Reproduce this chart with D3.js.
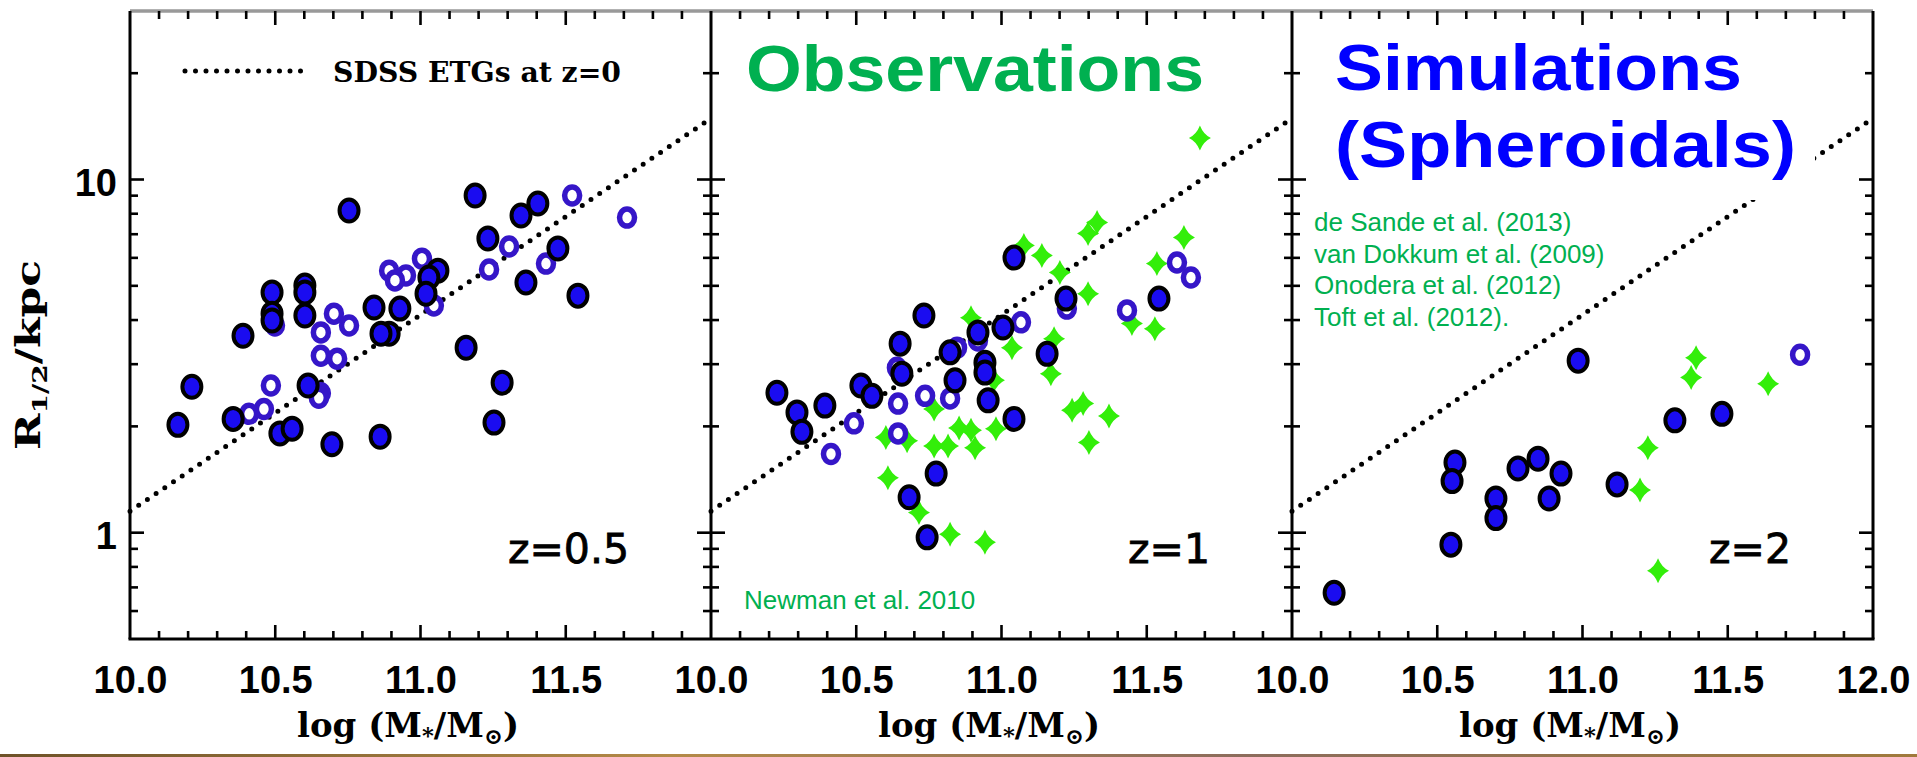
<!DOCTYPE html>
<html>
<head>
<meta charset="utf-8">
<script src="https://cdn.jsdelivr.net/npm/d3@7"></script>
<style>
  html, body { margin: 0; padding: 0; background: #ffffff; }
  svg { display: block; }
</style>
</head>
<body>
<svg id="chart" width="1917" height="757"></svg>
<script>
// ---- Axis ticks -------------------------------------------------------
const massLabelsFirst = [10.0, 10.5, 11.0, 11.5];          // panels 1 and 2
const massLabelsLast  = [10.0, 10.5, 11.0, 11.5, 12.0];    // panel 3
const massMinorTicks  = [10.1, 10.2, 10.3, 10.4, 10.6, 10.7, 10.8, 10.9, 11.1, 11.2,
                         11.3, 11.4, 11.6, 11.7, 11.8, 11.9];
const massMajorTicks  = [10.5, 11.0, 11.5];
const radiusLabels    = [1, 10];
const radiusMinorTicks = [0.6, 0.7, 0.8, 0.9, 2, 3, 4, 5, 6, 7, 8, 9, 20];

// ---- SDSS early-type size-mass relation at z=0 (end points) ----------
const sdssRelation = [[10.0, 1.15], [12.0, 14.9]];

// ---- Panel labels -----------------------------------------------------
const redshiftLabels = ["z=0.5", "z=1", "z=2"];

// ---- z = 0.5 : [log M*, R1/2 (kpc)] ----------------------------------
const z05Filled = [
  [10.754, 8.17], [11.188, 9.01], [11.346, 7.91], [11.404, 8.55], [11.232, 6.81],
  [11.473, 6.38], [11.363, 5.11], [11.542, 4.69], [11.060, 5.52], [11.029, 5.28],
  [11.019, 4.75], [10.489, 4.79], [10.489, 4.17], [10.489, 3.99], [10.602, 5.01],
  [10.602, 4.79], [10.602, 4.12], [10.389, 3.61], [10.840, 4.34], [10.929, 4.31],
  [10.892, 3.66], [10.864, 3.66], [11.157, 3.34], [11.281, 2.66], [10.213, 2.59],
  [10.165, 2.02], [10.355, 2.10], [10.516, 1.91], [10.558, 1.97], [10.613, 2.61],
  [10.695, 1.78], [10.861, 1.87], [11.253, 2.05]
];
const z05Open = [
  [11.522, 9.01], [11.711, 7.80], [11.305, 6.46], [11.236, 5.56], [11.432, 5.78],
  [11.005, 5.97], [10.892, 5.52], [10.950, 5.35], [10.912, 5.18], [11.046, 4.40],
  [10.702, 4.17], [10.754, 3.86], [10.657, 3.69], [10.499, 3.86], [10.657, 3.17],
  [10.713, 3.11], [10.485, 2.61], [10.461, 2.24], [10.410, 2.17], [10.657, 2.48],
  [10.650, 2.41]
];

// ---- z = 1 ------------------------------------------------------------
const z1Filled = [
  [11.043, 6.01], [11.222, 4.60], [11.542, 4.60], [10.733, 4.12], [10.651, 3.43],
  [10.919, 3.69], [11.005, 3.81], [10.823, 3.24], [10.943, 3.03], [11.157, 3.21],
  [10.227, 2.49], [10.296, 2.19], [10.313, 1.93], [10.392, 2.29], [10.516, 2.61],
  [10.554, 2.44], [10.657, 2.82], [10.840, 2.70], [10.943, 2.84], [10.954, 2.37],
  [11.043, 2.10], [10.775, 1.47], [10.682, 1.26], [10.744, 0.97]
];
const z1Open = [
  [11.604, 5.82], [11.652, 5.28], [11.432, 4.26], [11.067, 3.94], [11.225, 4.31],
  [10.919, 3.50], [10.847, 3.34], [10.640, 2.93], [10.492, 2.04], [10.413, 1.67],
  [10.644, 2.32], [10.737, 2.44], [10.823, 2.40], [10.644, 1.91]
];
const z1Observed = [
  [11.683, 13.1], [11.329, 7.55], [11.298, 7.03], [11.628, 6.85], [11.077, 6.50],
  [11.139, 6.09], [11.201, 5.45], [11.535, 5.78], [11.298, 4.75], [11.449, 3.91],
  [11.528, 3.78], [10.895, 4.06], [11.181, 3.54], [11.036, 3.34], [11.170, 2.82],
  [11.243, 2.22], [11.281, 2.32], [11.370, 2.14], [11.301, 1.80], [10.768, 2.24],
  [10.854, 1.98], [10.895, 1.95], [10.981, 1.97], [10.909, 1.74], [10.768, 1.76],
  [10.816, 1.76], [10.602, 1.86], [10.675, 1.82], [10.609, 1.43], [10.716, 1.14],
  [10.823, 0.99], [10.943, 0.94], [10.974, 2.70]
];

// ---- z = 2 ------------------------------------------------------------
const z2Filled = [
  [10.985, 3.07], [11.318, 2.08], [11.480, 2.17], [10.561, 1.58], [10.551, 1.40],
  [10.778, 1.52], [10.847, 1.62], [10.926, 1.47], [11.119, 1.37], [10.702, 1.25],
  [10.702, 1.10], [10.885, 1.25], [10.547, 0.925], [10.145, 0.676]
];
const z2Open = [[11.749, 3.19]];
const z2Observed = [
  [11.391, 3.13], [11.374, 2.75], [11.639, 2.64], [11.225, 1.74], [11.198, 1.32],
  [11.260, 0.78]
];

const observationRefs = [
  "de Sande et al. (2013)",
  "van Dokkum et al. (2009)",
  "Onodera et al. (2012)",
  "Toft et al. (2012)."
];

// ---- Layout -----------------------------------------------------------
const frameLeft = 130, panelW = 581, frameTop = 11, frameBottom = 639;
const panels = [
  { filled: z05Filled, open: z05Open, observed: [],         label: redshiftLabels[0], ticks: massLabelsFirst },
  { filled: z1Filled,  open: z1Open,  observed: z1Observed, label: redshiftLabels[1], ticks: massLabelsFirst },
  { filled: z2Filled,  open: z2Open,  observed: z2Observed, label: redshiftLabels[2], ticks: massLabelsLast }
];
panels.forEach((p, i) => {
  p.x0 = frameLeft + i * panelW;
  p.x = d3.scaleLinear().domain([10, 12]).range([p.x0, p.x0 + panelW]);
});
const y = d3.scaleLog().domain([0.5, 30]).range([frameBottom, frameTop]);

const svg = d3.select("#chart");
svg.append("rect").attr("width", 1917).attr("height", 757).attr("fill", "#ffffff");

const serif = "'DejaVu Serif', 'Liberation Serif', serif";
const sans  = "'Liberation Sans', Arial, sans-serif";
const COL_FILL = "#1a0cf0", COL_RING = "#3516c8", COL_STAR = "#33ee0a", COL_GREEN = "#00b050";

// ---- SDSS relation (dotted) --------------------------------------------
panels.forEach(p => {
  const line = d3.line().x(d => p.x(d[0])).y(d => y(d[1]));
  svg.append("path")
    .attr("d", line(sdssRelation))
    .attr("fill", "none")
    .attr("stroke", "#000")
    .attr("stroke-width", 5)
    .attr("stroke-linecap", "round")
    .attr("stroke-dasharray", "0 10.5");
});

// white backing of the simulations title in the last panel
svg.append("rect")
  .attr("x", 1320).attr("y", 25).attr("width", 495).attr("height", 175)
  .attr("fill", "#ffffff");

// ---- Markers -------------------------------------------------------------
const starPath = "M0,-12.5 Q3.5,-3.5 11,0 Q3.5,3.5 0,12.5 Q-3.5,3.5 -11,0 Q-3.5,-3.5 0,-12.5 Z";

panels.forEach(p => {
  const g = svg.append("g");
  g.selectAll("path.star").data(p.observed).join("path")
    .attr("class", "star")
    .attr("d", starPath)
    .attr("transform", d => `translate(${p.x(d[0])},${y(d[1])})`)
    .attr("fill", COL_STAR);
  g.selectAll("ellipse.open").data(p.open).join("ellipse")
    .attr("class", "open")
    .attr("cx", d => p.x(d[0])).attr("cy", d => y(d[1]))
    .attr("rx", 7.5).attr("ry", 8.5)
    .attr("fill", "#ffffff")
    .attr("stroke", COL_RING).attr("stroke-width", 5.5);
  g.selectAll("ellipse.filled").data(p.filled).join("ellipse")
    .attr("class", "filled")
    .attr("cx", d => p.x(d[0])).attr("cy", d => y(d[1]))
    .attr("rx", 9.5).attr("ry", 11)
    .attr("fill", COL_FILL)
    .attr("stroke", "#000").attr("stroke-width", 4);
});

// ---- Frames and ticks ------------------------------------------------------
const frame = svg.append("g");
frame.append("line")
  .attr("x1", frameLeft).attr("x2", frameLeft + 3 * panelW)
  .attr("y1", frameTop).attr("y2", frameTop)
  .attr("stroke", "#999").attr("stroke-width", 3.5);
frame.append("line")
  .attr("x1", frameLeft - 1.5).attr("x2", frameLeft + 3 * panelW + 1.5)
  .attr("y1", frameBottom).attr("y2", frameBottom)
  .attr("stroke", "#000").attr("stroke-width", 3);
[0, 1, 2, 3].forEach(i => {
  frame.append("line")
    .attr("x1", frameLeft + i * panelW).attr("x2", frameLeft + i * panelW)
    .attr("y1", frameTop).attr("y2", frameBottom)
    .attr("stroke", "#000").attr("stroke-width", 3);
});

const MINOR = 8, MAJOR = 14;
panels.forEach(p => {
  const xt = [...massMinorTicks.map(v => [v, MINOR]), ...massMajorTicks.map(v => [v, MAJOR])];
  // bottom and top
  frame.selectAll(null).data(xt).join("line")
    .attr("x1", d => p.x(d[0])).attr("x2", d => p.x(d[0]))
    .attr("y1", frameBottom).attr("y2", d => frameBottom - d[1])
    .attr("stroke", "#000").attr("stroke-width", 2.6);
  frame.selectAll(null).data(xt).join("line")
    .attr("x1", d => p.x(d[0])).attr("x2", d => p.x(d[0]))
    .attr("y1", frameTop).attr("y2", d => frameTop + d[1])
    .attr("stroke", "#000").attr("stroke-width", 2.6);
  // left and right
  const yt = [...radiusMinorTicks.map(v => [v, MINOR]), ...radiusLabels.map(v => [v, MAJOR])];
  frame.selectAll(null).data(yt).join("line")
    .attr("y1", d => y(d[0])).attr("y2", d => y(d[0]))
    .attr("x1", p.x0).attr("x2", d => p.x0 + d[1])
    .attr("stroke", "#000").attr("stroke-width", 2.6);
  frame.selectAll(null).data(yt).join("line")
    .attr("y1", d => y(d[0])).attr("y2", d => y(d[0]))
    .attr("x1", p.x0 + panelW).attr("x2", d => p.x0 + panelW - d[1])
    .attr("stroke", "#000").attr("stroke-width", 2.6);

  // mass tick labels via a d3 axis (tick marks drawn above)
  const axis = d3.axisBottom(p.x).tickValues(p.ticks).tickSize(0).tickPadding(0)
    .tickFormat(d3.format(".1f"));
  const ag = svg.append("g").attr("transform", `translate(0,${frameBottom})`).call(axis);
  ag.select(".domain").remove();
  ag.selectAll("text")
    .attr("y", 54).attr("dy", null)
    .attr("font-family", sans).attr("font-weight", "bold").attr("font-size", 38)
    .attr("fill", "#000");

  // x-axis title
  const t = svg.append("text")
    .attr("x", p.x0 + 167).attr("y", 737)
    .attr("font-family", serif).attr("font-weight", "bold").attr("font-size", 33)
    .attr("textLength", 222).attr("lengthAdjust", "spacingAndGlyphs")
    .attr("fill", "#000");
  t.append("tspan").text("log (M");
  t.append("tspan").text("*").attr("font-size", 22).attr("dy", 6);
  t.append("tspan").text("/M").attr("dy", -6);
  t.append("tspan").text("\u2299").attr("font-size", 22).attr("dy", 7);
  t.append("tspan").text(")").attr("dy", -7);

  // redshift label
  svg.append("text")
    .attr("x", p.x0 + panelW - 82).attr("y", 563)
    .attr("text-anchor", "end")
    .attr("font-family", "'DejaVu Sans', sans-serif").attr("font-size", 41)
    .attr("fill", "#000").attr("stroke", "#000").attr("stroke-width", 0.8)
    .text(p.label);
});

// radius tick labels via a d3 axis
const yAxis = d3.axisLeft(y).tickValues(radiusLabels).tickSize(0).tickPadding(0)
  .tickFormat(d3.format("d"));
const yg = svg.append("g").attr("transform", `translate(${frameLeft - 13},0)`).call(yAxis);
yg.select(".domain").remove();
yg.selectAll("text")
  .attr("dy", 16).attr("x", 0)
  .attr("font-family", sans).attr("font-weight", "bold").attr("font-size", 38)
  .attr("fill", "#000");

// y-axis title
const yt = svg.append("text")
  .attr("transform", "translate(40,355) rotate(-90)")
  .attr("text-anchor", "middle")
  .attr("font-family", serif).attr("font-weight", "bold").attr("font-size", 33)
  .attr("textLength", 190).attr("lengthAdjust", "spacingAndGlyphs")
  .attr("fill", "#000");
yt.append("tspan").text("R");
yt.append("tspan").text("1/2").attr("font-size", 21).attr("dy", 7);
yt.append("tspan").text("/kpc").attr("dy", -7);

// ---- Legend for SDSS relation -------------------------------------------
svg.append("line")
  .attr("x1", 185).attr("x2", 301).attr("y1", 71).attr("y2", 71)
  .attr("stroke", "#000").attr("stroke-width", 5)
  .attr("stroke-linecap", "round").attr("stroke-dasharray", "0 10.5");
svg.append("text")
  .attr("x", 333).attr("y", 82)
  .attr("font-family", serif).attr("font-weight", "bold").attr("font-size", 28)
  .attr("textLength", 288).attr("lengthAdjust", "spacingAndGlyphs")
  .attr("fill", "#000")
  .text("SDSS ETGs at z=0");

// ---- Titles -------------------------------------------------------------------
svg.append("text")
  .attr("x", 746).attr("y", 91)
  .attr("font-family", sans).attr("font-weight", "bold").attr("font-size", 64)
  .attr("textLength", 458).attr("lengthAdjust", "spacingAndGlyphs")
  .attr("fill", COL_GREEN).text("Observations");
svg.append("text")
  .attr("x", 1335).attr("y", 90)
  .attr("font-family", sans).attr("font-weight", "bold").attr("font-size", 64)
  .attr("textLength", 407).attr("lengthAdjust", "spacingAndGlyphs")
  .attr("fill", "#0000ff").text("Simulations");
svg.append("text")
  .attr("x", 1335).attr("y", 167)
  .attr("font-family", sans).attr("font-weight", "bold").attr("font-size", 64)
  .attr("textLength", 461).attr("lengthAdjust", "spacingAndGlyphs")
  .attr("fill", "#0000ff").text("(Spheroidals)");

svg.selectAll("text.ref").data(observationRefs).join("text")
  .attr("class", "ref")
  .attr("x", 1314).attr("y", (d, i) => 231 + i * 31.7)
  .attr("font-family", sans).attr("font-size", 26)
  .attr("fill", COL_GREEN).text(d => d);

svg.append("text")
  .attr("x", 744).attr("y", 609)
  .attr("font-family", sans).attr("font-size", 26)
  .attr("fill", COL_GREEN).text("Newman et al. 2010");

// ---- bottom edge strip ---------------------------------------------------------
const grad = svg.append("defs").append("linearGradient").attr("id", "edge");
[["0%", "#6e5228"], ["35%", "#b48a48"], ["65%", "#8c6c5c"], ["100%", "#a07a3c"]]
  .forEach(([o, c]) => grad.append("stop").attr("offset", o).attr("stop-color", c));
svg.append("rect").attr("x", 0).attr("y", 754).attr("width", 1917).attr("height", 3)
  .attr("fill", "url(#edge)");
</script>
</body>
</html>
